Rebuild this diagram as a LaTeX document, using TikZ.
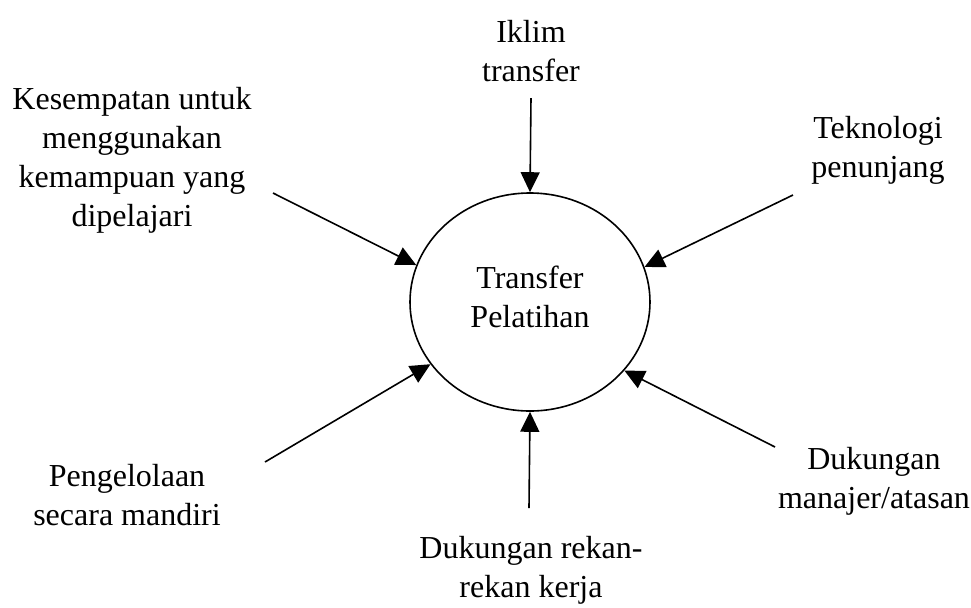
\documentclass[tikz,border=0pt]{standalone}
\usepackage{fontspec}
\setmainfont{Liberation Serif}
\usetikzlibrary{shapes.geometric,arrows.meta}

\begin{document}
\begin{tikzpicture}[x=0.5pt,y=-0.5pt,
  lbl/.style={align=center,font=\fontsize{16}{19.5}\selectfont,inner sep=0pt},
  into/.style={-{Triangle[length=10pt,width=9.5pt]},line width=0.8pt}]
\useasboundingbox (0,0) rectangle (971,607);
\node[ellipse,draw,line width=0.8pt,minimum width=120pt,minimum height=109pt,lbl,text depth=5pt] (tp) at (530,302) {Transfer\\Pelatihan};
\node[lbl] (iklim) at (531,51) {Iklim\\transfer};
\node[lbl] (kesempatan) at (132,160) {Kesempatan untuk\\menggunakan\\kemampuan yang\\dipelajari};
\node[lbl] (teknologi) at (878,150) {Teknologi\\penunjang};
\node[lbl] (pengelolaan) at (127,495) {Pengelolaan\\secara mandiri};
\node[lbl] (manajer) at (874,481) {Dukungan\\manajer/atasan};
\node[lbl] (rekan) at (531,570) {Dukungan rekan-\\rekan kerja};
\coordinate (ci) at (531,98);
\coordinate (ck) at (273,193);
\coordinate (ct) at (793,195);
\coordinate (cp) at (265,462);
\coordinate (cr) at (529,508);
\coordinate (cm) at (775,447);
\draw[into] (ci) -- (tp.90);
\draw[into] (ck) -- (tp.162);
\draw[into] (ct) -- (tp.17);
\draw[into] (cp) -- (tp.212);
\draw[into] (cr) -- (tp.270);
\draw[into] (cm) -- (tp.324);
\end{tikzpicture}
\end{document}
